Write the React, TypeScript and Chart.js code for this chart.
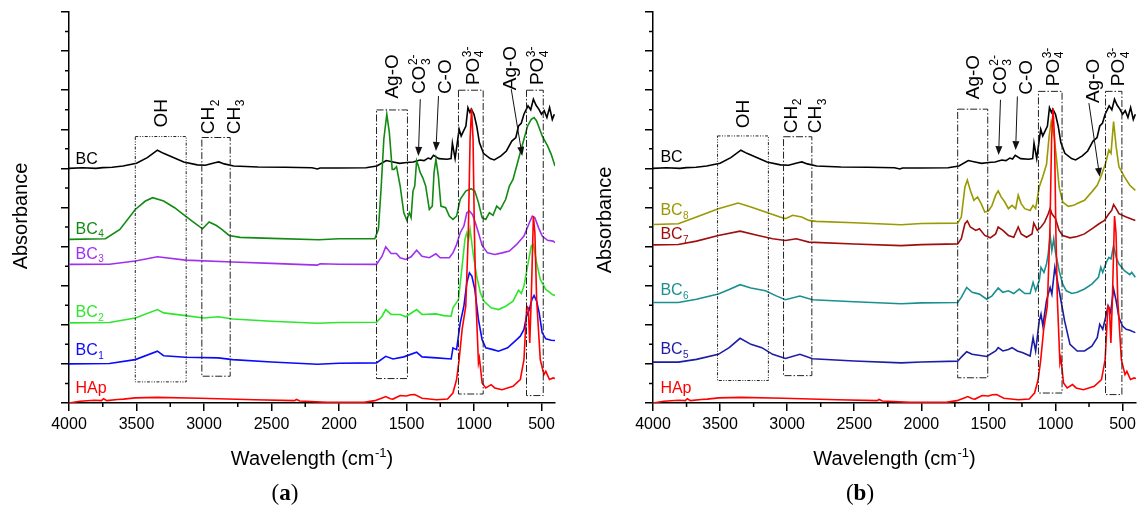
import React, { useEffect, useRef } from "react";
import { Chart, registerables } from "chart.js";
Chart.register(...registerables);

type Pt = [number, number];

// ---------- axis ticks ----------
const xTickLabels = [4000, 3500, 3000, 2500, 2000, 1500, 1000, 500];
const xMinorTicks = [3750, 3250, 2750, 2250, 1750, 1250, 750];
const yMinorTicks = [1, 3, 5, 7, 9, 11, 13, 15, 17, 19];

// ---------- spectra: [wavenumber, absorbance offset units] ----------
const HAp: Pt[] = [
  [4000, 0.0], [3919, 0.09], [3811, 0.14], [3760, 0.12], [3744, 0.22], [3720, 0.12], [3640, 0.18], [3596, 0.2],
  [3509, 0.26], [3345, 0.29], [3029, 0.24], [2625, 0.17], [2330, 0.12], [2315, 0.18], [2290, 0.1], [2086, 0.03],
  [1816, 0.03], [1735, 0.12], [1680, 0.26], [1654, 0.33], [1620, 0.22], [1600, 0.2], [1547, 0.38], [1500, 0.36],
  [1470, 0.42], [1439, 0.43], [1385, 0.24], [1277, 0.17], [1196, 0.2], [1156, 0.51], [1129, 1.2], [1110, 2.22],
  [1088, 3.76], [1061, 4.95], [1042, 8.71], [1029, 13.49], [1018, 15.06], [1007, 13.49], [997, 8.71], [986, 5.29],
  [967, 2.05], [960, 2.3], [953, 1.88], [940, 1.02], [913, 0.77], [873, 0.94], [846, 0.77], [792, 0.68],
  [711, 0.85], [657, 1.2], [630, 2.22], [609, 4.95], [598, 4.87], [587, 3.07], [576, 5.29], [560, 9.56],
  [549, 8.71], [536, 5.29], [509, 2.22], [482, 1.45], [468, 1.62], [441, 1.2], [414, 1.28], [400, 1.25],
];

const BC: Pt[] = [
  [4000, 12.0], [3900, 12.03], [3800, 12.0], [3750, 12.04], [3680, 12.06], [3600, 12.12], [3500, 12.26],
  [3420, 12.55], [3345, 12.93], [3300, 12.77], [3240, 12.6], [3150, 12.33], [3050, 12.18], [2990, 12.16],
  [2920, 12.29], [2890, 12.33], [2850, 12.23], [2780, 12.12], [2600, 12.07], [2400, 12.06], [2200, 12.03],
  [2160, 11.97], [2140, 12.02], [2000, 12.02], [1800, 12.03], [1720, 12.12], [1650, 12.4], [1600, 12.33],
  [1550, 12.26], [1500, 12.3], [1450, 12.33], [1400, 12.43], [1370, 12.4], [1340, 12.53], [1320, 12.48],
  [1300, 12.67], [1260, 12.5], [1200, 12.47], [1170, 12.5], [1160, 13.29], [1140, 12.5], [1110, 14.0],
  [1095, 13.66], [1060, 14.17], [1045, 15.11], [1030, 14.86], [1020, 15.03], [1000, 14.77], [980, 14.17],
  [960, 13.32], [930, 12.77], [880, 12.5], [850, 12.43], [800, 12.64], [760, 12.89], [720, 13.4], [690, 13.58],
  [670, 14.17], [650, 14.31], [630, 14.77], [600, 15.2], [580, 15.0], [560, 15.54], [540, 15.23], [520, 15.03],
  [500, 14.77], [480, 14.95], [460, 14.6], [440, 15.11], [420, 14.5], [405, 14.77],
];

const BC1: Pt[] = [
  [4000, 2.0], [3700, 2.02], [3509, 2.22], [3345, 2.65], [3299, 2.42], [3137, 2.34], [2895, 2.31], [2787, 2.22],
  [2500, 2.1], [2160, 1.98], [2000, 2.03], [1722, 2.05], [1654, 2.39], [1600, 2.25], [1520, 2.36], [1425, 2.6],
  [1385, 2.36], [1277, 2.31], [1169, 2.25], [1156, 2.82], [1129, 2.73], [1102, 4.1], [1075, 4.95], [1053, 6.15],
  [1034, 6.66], [1016, 6.49], [994, 5.81], [967, 4.27], [940, 3.24], [913, 2.82], [859, 2.73], [819, 2.65],
  [751, 2.82], [684, 3.24], [657, 3.42], [630, 3.76], [611, 4.44], [590, 4.78], [571, 5.29], [555, 5.5],
  [536, 5.21], [517, 4.61], [495, 3.59], [468, 3.28], [428, 3.21], [400, 3.2],
];

const BC2: Pt[] = [
  [4000, 4.1], [3700, 4.12], [3509, 4.35], [3345, 4.78], [3299, 4.61], [3137, 4.47], [3002, 4.35], [2895, 4.41],
  [2787, 4.3], [2500, 4.18], [2160, 4.08], [2000, 4.12], [1722, 4.13], [1681, 4.44], [1654, 4.78], [1614, 4.53],
  [1547, 4.53], [1506, 4.41], [1425, 4.78], [1385, 4.53], [1282, 4.56], [1223, 4.47], [1169, 4.44], [1156, 4.87],
  [1115, 5.29], [1088, 7.0], [1067, 8.37], [1053, 8.71], [1040, 8.37], [1029, 8.88], [1007, 7.68], [980, 6.49],
  [953, 5.64], [927, 5.21], [873, 4.87], [819, 4.78], [765, 4.95], [711, 5.21], [670, 5.77], [649, 5.6],
  [630, 5.98], [603, 7.0], [576, 8.03], [560, 8.11], [536, 7.17], [509, 6.32], [468, 5.81], [441, 5.67],
  [420, 5.55], [400, 5.5],
];

const BC3: Pt[] = [
  [4000, 7.09], [3700, 7.1], [3509, 7.26], [3345, 7.48], [3137, 7.31], [2787, 7.21], [2500, 7.14], [2160, 7.05],
  [2140, 7.12], [2000, 7.1], [1722, 7.09], [1681, 7.51], [1654, 7.99], [1614, 7.65], [1574, 7.65], [1547, 7.43],
  [1506, 7.34], [1466, 7.48], [1425, 7.82], [1385, 7.51], [1331, 7.43], [1282, 7.63], [1250, 7.43], [1183, 7.43],
  [1156, 7.68], [1129, 8.11], [1102, 8.71], [1075, 9.05], [1053, 9.73], [1034, 9.82], [1012, 9.65], [994, 9.31],
  [967, 8.71], [940, 8.06], [900, 7.68], [846, 7.6], [792, 7.68], [738, 7.77], [684, 8.11], [630, 8.54],
  [590, 9.22], [568, 9.56], [549, 9.48], [522, 8.97], [495, 8.54], [455, 8.32], [414, 8.28], [400, 8.2],
];

const BC4: Pt[] = [
  [4000, 8.37], [3730, 8.4], [3623, 8.88], [3509, 9.9], [3434, 10.33], [3380, 10.5], [3299, 10.33], [3218, 9.99],
  [3137, 9.56], [3056, 9.14], [3011, 8.91], [2962, 9.26], [2908, 9.08], [2868, 8.88], [2814, 8.57], [2733, 8.47],
  [2500, 8.42], [2150, 8.35], [2000, 8.4], [1735, 8.4], [1708, 8.88], [1687, 11.1], [1668, 13.49], [1646, 14.77],
  [1627, 13.83], [1606, 11.95], [1592, 11.95], [1574, 12.09], [1547, 11.1], [1520, 9.73], [1498, 9.36],
  [1479, 9.73], [1466, 9.48], [1452, 10.84], [1439, 11.1], [1425, 12.38], [1412, 12.12], [1398, 11.78],
  [1380, 11.53], [1358, 11.1], [1331, 9.9], [1309, 10.07], [1296, 11.78], [1282, 12.47], [1264, 11.61],
  [1245, 10.07], [1210, 9.99], [1183, 9.56], [1156, 9.39], [1129, 9.56], [1102, 10.42], [1061, 10.84],
  [1021, 10.96], [994, 10.84], [967, 10.25], [940, 9.48], [913, 9.39], [886, 9.73], [859, 9.6], [832, 10.07],
  [805, 9.9], [765, 10.42], [738, 11.1], [711, 11.44], [684, 12.12], [657, 12.81], [630, 13.49], [603, 14.17],
  [576, 14.51], [555, 14.6], [536, 14.43], [495, 13.66], [455, 13.15], [428, 12.72], [400, 12.12],
];

const BC5: Pt[] = [
  [4000, 2.09], [3811, 2.09], [3676, 2.23], [3513, 2.49], [3432, 2.83], [3351, 3.31], [3270, 3.0], [3189, 2.83],
  [3108, 2.49], [3013, 2.28], [2905, 2.49], [2811, 2.26], [2500, 2.15], [2150, 2.05], [2000, 2.1], [1729, 2.14],
  [1702, 2.35], [1662, 2.62], [1621, 2.49], [1513, 2.38], [1446, 2.66], [1427, 2.83], [1392, 2.66], [1351, 2.74],
  [1324, 2.83], [1284, 2.66], [1243, 2.57], [1189, 2.4], [1167, 3.34], [1148, 2.66], [1121, 4.2], [1108, 4.54],
  [1094, 3.94], [1067, 5.23], [1054, 5.57], [1040, 5.91], [1027, 5.57], [1005, 6.94], [986, 6.26], [959, 5.23],
  [932, 4.2], [892, 3.0], [838, 2.66], [784, 2.66], [729, 2.91], [689, 3.34], [670, 4.03], [648, 3.77],
  [627, 4.37], [608, 4.97], [589, 4.63], [567, 5.83], [548, 5.23], [527, 4.37], [500, 3.94], [473, 3.77],
  [446, 3.72], [405, 3.6],
];

const BC6: Pt[] = [
  [4000, 5.14], [3811, 5.14], [3676, 5.31], [3513, 5.57], [3432, 5.81], [3351, 6.05], [3270, 5.88], [3162, 5.74],
  [3081, 5.48], [3013, 5.28], [2905, 5.47], [2811, 5.28], [2500, 5.18], [2150, 5.08], [2000, 5.12], [1729, 5.14],
  [1702, 5.4], [1662, 5.91], [1621, 5.66], [1567, 5.57], [1513, 5.31], [1473, 5.48], [1427, 5.88], [1392, 5.66],
  [1351, 5.74], [1311, 5.6], [1270, 5.83], [1229, 5.6], [1189, 5.6], [1167, 6.17], [1148, 5.74], [1121, 6.26],
  [1108, 6.94], [1086, 6.68], [1067, 7.11], [1054, 7.63], [1040, 8.6], [1027, 7.8], [1013, 8.4], [1000, 7.71],
  [973, 6.77], [946, 6.08], [919, 5.74], [878, 5.6], [838, 5.66], [784, 5.83], [729, 6.08], [680, 6.43],
  [662, 6.94], [648, 6.68], [621, 7.2], [602, 7.45], [586, 7.37], [567, 8.05], [548, 7.45], [527, 7.11],
  [486, 6.77], [446, 6.56], [432, 6.68], [405, 6.43],
];

const BC7: Pt[] = [
  [4000, 8.09], [3811, 8.11], [3676, 8.28], [3513, 8.57], [3351, 8.79], [3216, 8.57], [3108, 8.4], [3013, 8.31],
  [2932, 8.4], [2838, 8.23], [2500, 8.13], [2150, 8.05], [2000, 8.1], [1729, 8.14], [1702, 8.4], [1675, 9.17],
  [1657, 9.31], [1635, 9.0], [1594, 8.83], [1567, 8.91], [1527, 8.57], [1486, 8.45], [1446, 8.65], [1427, 9.0],
  [1392, 8.83], [1351, 8.57], [1311, 8.48], [1278, 9.0], [1256, 8.65], [1216, 8.48], [1175, 8.65], [1162, 9.2],
  [1135, 8.83], [1108, 9.0], [1081, 9.25], [1054, 9.68], [1040, 9.95], [1027, 9.68], [1000, 9.43], [973, 8.83],
  [946, 8.57], [892, 8.45], [838, 8.52], [784, 8.65], [729, 8.91], [675, 9.17], [635, 9.34], [602, 9.68],
  [581, 9.85], [567, 10.15], [548, 9.94], [527, 9.68], [473, 9.51], [405, 9.34],
];

const BC8: Pt[] = [
  [4000, 9.13], [3811, 9.17], [3676, 9.51], [3513, 9.94], [3365, 10.23], [3270, 10.03], [3162, 9.77],
  [3054, 9.51], [3013, 9.43], [2959, 9.6], [2892, 9.51], [2838, 9.34], [2784, 9.29], [2500, 9.22], [2150, 9.12],
  [2000, 9.18], [1729, 9.2], [1702, 9.51], [1675, 11.05], [1657, 11.4], [1635, 10.88], [1608, 10.37],
  [1581, 10.54], [1554, 10.2], [1527, 9.77], [1500, 9.82], [1473, 10.11], [1446, 10.63], [1427, 10.85],
  [1405, 10.54], [1378, 10.28], [1351, 9.94], [1324, 10.11], [1297, 9.94], [1278, 10.63], [1256, 10.2],
  [1229, 9.94], [1189, 9.85], [1167, 10.11], [1148, 9.94], [1121, 11.05], [1094, 11.6], [1067, 12.2],
  [1048, 13.6], [1032, 14.4], [1013, 13.8], [994, 12.6], [973, 11.05], [946, 10.28], [905, 10.06], [865, 10.11],
  [838, 10.2], [784, 10.37], [729, 10.8], [689, 11.14], [662, 11.57], [627, 12.25], [602, 12.94], [586, 12.77],
  [567, 14.4], [548, 13.11], [527, 12.08], [486, 11.57], [446, 11.14], [405, 10.88],
];

// ---------- styling / layout config ----------
const FONT = '"Liberation Sans", Arial, Helvetica, sans-serif';
const SERIF = '"Liberation Serif", "Times New Roman", serif';

type Seg = { t: string; k?: "sup" | "sub"; b?: boolean };

const S_OH: Seg[] = [{ t: "OH" }];
const S_CH2: Seg[] = [{ t: "CH" }, { t: "2", k: "sub" }];
const S_CH3: Seg[] = [{ t: "CH" }, { t: "3", k: "sub" }];
const S_AGO: Seg[] = [{ t: "Ag-O" }];
const S_CO3: Seg[] = [{ t: "CO" }, { t: "2-", k: "sup" }, { t: "3", k: "sub" }];
const S_CO: Seg[] = [{ t: "C-O" }];
const S_PO4: Seg[] = [{ t: "PO" }, { t: "3-", k: "sup" }, { t: "4", k: "sub" }];

function sub(name: string, n: string): Seg[] {
  return [{ t: name }, { t: n, k: "sub" }];
}

const panelA = {
  yWidth: 69,
  padRight: 15,
  letter: "a",
  letterX: 285,
  absX: 20,
  absY: 216,
  labelX: 3952,
  series: [
    { data: HAp, color: "#ff0000" },
    { data: BC1, color: "#0a0aff" },
    { data: BC2, color: "#2ee62e" },
    { data: BC3, color: "#a030f0" },
    { data: BC4, color: "#138a13" },
    { data: BC, color: "#000000" },
  ],
  labels: [
    { segs: [{ t: "BC" }] as Seg[], y: 12.25, color: "#000000" },
    { segs: sub("BC", "4"), y: 8.67, color: "#138a13" },
    { segs: sub("BC", "3"), y: 7.39, color: "#a030f0" },
    { segs: sub("BC", "2"), y: 4.4, color: "#2ee62e" },
    { segs: sub("BC", "1"), y: 2.47, color: "#0a0aff" },
    { segs: [{ t: "HAp" }] as Seg[], y: 0.5, color: "#ff0000" },
  ],
  boxes: [
    { x1: 3509, x2: 3132, y1: 13.63, y2: 1.08, dots: true },
    { x1: 3016, x2: 2806, y1: 13.58, y2: 1.37, dots: false },
    { x1: 1722, x2: 1493, y1: 14.99, y2: 1.25, dots: false },
    { x1: 1115, x2: 932, y1: 16.0, y2: 0.46, dots: false },
    { x1: 611, x2: 487, y1: 16.0, y2: 0.38, dots: false },
  ],
  notes: [
    { segs: S_OH, x: 3326, y: 14.09 },
    { segs: S_CH2, x: 2976, y: 13.75 },
    { segs: S_CH3, x: 2787, y: 13.75 },
    { segs: S_AGO, x: 1614, y: 15.57 },
    { segs: S_CO3, x: 1412, y: 15.8 },
    { segs: S_CO, x: 1223, y: 15.8 },
    { segs: S_PO4, x: 1016, y: 16.26 },
    { segs: S_AGO, x: 738, y: 16.0 },
    { segs: S_PO4, x: 536, y: 16.26 },
  ],
  arrows: [
    [1398, 15.54, 1412, 12.64],
    [1263, 15.7, 1282, 12.89],
    [724, 16.05, 643, 12.64],
  ],
};

const panelB = {
  yWidth: 83,
  padRight: 3,
  letter: "b",
  letterX: 290,
  absX: 34,
  absY: 220,
  labelX: 3945,
  series: [
    { data: HAp, color: "#ff0000" },
    { data: BC5, color: "#1c1ca8" },
    { data: BC6, color: "#1a9090" },
    { data: BC7, color: "#a00d0d" },
    { data: BC8, color: "#999900" },
    { data: BC, color: "#000000" },
  ],
  labels: [
    { segs: [{ t: "BC" }] as Seg[], y: 12.32, color: "#000000" },
    { segs: sub("BC", "8"), y: 9.61, color: "#999900" },
    { segs: sub("BC", "7"), y: 8.37, color: "#a00d0d" },
    { segs: sub("BC", "6"), y: 5.5, color: "#1a9090" },
    { segs: sub("BC", "5"), y: 2.5, color: "#1c1ca8" },
    { segs: [{ t: "HAp" }] as Seg[], y: 0.53, color: "#ff0000" },
  ],
  boxes: [
    { x1: 3519, x2: 3140, y1: 13.66, y2: 1.15, dots: true },
    { x1: 3027, x2: 2816, y1: 13.62, y2: 1.4, dots: false },
    { x1: 1729, x2: 1505, y1: 15.03, y2: 1.29, dots: false },
    { x1: 1127, x2: 951, y1: 15.94, y2: 0.51, dots: false },
    { x1: 627, x2: 505, y1: 15.94, y2: 0.43, dots: false },
  ],
  notes: [
    { segs: S_OH, x: 3338, y: 14.05 },
    { segs: S_CH2, x: 2981, y: 13.8 },
    { segs: S_CH3, x: 2797, y: 13.8 },
    { segs: S_AGO, x: 1621, y: 15.54 },
    { segs: S_CO3, x: 1419, y: 15.77 },
    { segs: S_CO, x: 1229, y: 15.77 },
    { segs: S_PO4, x: 1027, y: 16.2 },
    { segs: S_AGO, x: 729, y: 15.34 },
    { segs: S_PO4, x: 540, y: 16.2 },
  ],
  arrows: [
    [1410, 15.51, 1424, 12.68],
    [1284, 15.68, 1297, 12.94],
    [751, 15.34, 670, 11.57],
  ],
};

// ---------- rich text helpers ----------
function richLayout(ctx: any, segs: Seg[], size: number, family: string, x: number, y: number, draw: boolean) {
  let cx = x;
  let i = 0;
  while (i < segs.length) {
    const s = segs[i];
    if (!s.k) {
      ctx.font = `${s.b ? "bold " : ""}${size}px ${family}`;
      if (draw) ctx.fillText(s.t, cx, y);
      cx += ctx.measureText(s.t).width;
      i++;
    } else {
      let w = 0;
      const ss = Math.round(size * 0.64);
      while (i < segs.length && segs[i].k) {
        const q = segs[i];
        ctx.font = `${ss}px ${family}`;
        const dy = q.k === "sup" ? -size * 0.42 : size * 0.24;
        if (draw) ctx.fillText(q.t, cx + 0.5, y + dy);
        w = Math.max(w, ctx.measureText(q.t).width);
        i++;
      }
      cx += w + 0.5;
    }
  }
  return cx - x;
}

function makeChart(canvas: HTMLCanvasElement, spec: any) {
  const decor = {
    id: "decor",
    afterDraw(chart: any) {
      const ctx = chart.ctx as CanvasRenderingContext2D;
      const xs = chart.scales.x;
      const ys = chart.scales.y;
      const ca = chart.chartArea;
      ctx.save();
      ctx.textBaseline = "alphabetic";
      ctx.textAlign = "left";

      // minor ticks
      ctx.strokeStyle = "#000";
      ctx.lineWidth = 1.5;
      ctx.beginPath();
      xMinorTicks.forEach((v) => {
        const px = xs.getPixelForValue(v);
        ctx.moveTo(px, ca.bottom);
        ctx.lineTo(px, ca.bottom + 4);
      });
      yMinorTicks.forEach((v) => {
        const py = ys.getPixelForValue(v);
        ctx.moveTo(ca.left, py);
        ctx.lineTo(ca.left - 4, py);
      });
      ctx.stroke();

      // boxes
      ctx.strokeStyle = "#222";
      ctx.lineWidth = 1;
      spec.boxes.forEach((b: any) => {
        const x1 = xs.getPixelForValue(b.x1);
        const x2 = xs.getPixelForValue(b.x2);
        const y1 = ys.getPixelForValue(b.y1);
        const y2 = ys.getPixelForValue(b.y2);
        ctx.setLineDash(b.dots ? [3, 1.5, 1, 1.5, 1, 1.5] : [7, 2, 1.5, 2]);
        ctx.strokeRect(Math.min(x1, x2), Math.min(y1, y2), Math.abs(x2 - x1), Math.abs(y2 - y1));
      });
      ctx.setLineDash([]);

      // arrows
      ctx.strokeStyle = "#111";
      ctx.fillStyle = "#111";
      ctx.lineWidth = 1;
      spec.arrows.forEach((a: number[]) => {
        const x1 = xs.getPixelForValue(a[0]);
        const y1 = ys.getPixelForValue(a[1]);
        const x2 = xs.getPixelForValue(a[2]);
        const y2 = ys.getPixelForValue(a[3]);
        const ang = Math.atan2(y2 - y1, x2 - x1);
        const L = 9;
        const W = 3.5;
        const bx = x2 - L * Math.cos(ang);
        const by = y2 - L * Math.sin(ang);
        ctx.beginPath();
        ctx.moveTo(x1, y1);
        ctx.lineTo(bx, by);
        ctx.stroke();
        ctx.beginPath();
        ctx.moveTo(x2, y2);
        ctx.lineTo(bx + W * Math.sin(ang), by - W * Math.cos(ang));
        ctx.lineTo(bx - W * Math.sin(ang), by + W * Math.cos(ang));
        ctx.closePath();
        ctx.fill();
      });

      // rotated annotations
      const NS = 19;
      const cap = NS * 0.716;
      ctx.fillStyle = "#000";
      spec.notes.forEach((n: any) => {
        const px = xs.getPixelForValue(n.x);
        const py = ys.getPixelForValue(n.y);
        ctx.save();
        ctx.translate(px + cap / 2, py);
        ctx.rotate(-Math.PI / 2);
        richLayout(ctx, n.segs, NS, FONT, 0, 0, true);
        ctx.restore();
      });

      // curve labels
      const lx = xs.getPixelForValue(spec.labelX);
      spec.labels.forEach((l: any) => {
        ctx.fillStyle = l.color;
        richLayout(ctx, l.segs, 16, FONT, lx, ys.getPixelForValue(l.y), true);
      });

      // x axis title
      ctx.fillStyle = "#000";
      const tSegs: Seg[] = [{ t: "Wavelength (cm" }, { t: "-1", k: "sup" }, { t: ")" }];
      const tw = richLayout(ctx, tSegs, 20, FONT, 0, 0, false);
      const cx = (ca.left + ca.right) / 2;
      richLayout(ctx, tSegs, 20, FONT, cx - tw / 2, 465, true);

      // y axis title
      const aSegs: Seg[] = [{ t: "Absorbance" }];
      const aw = richLayout(ctx, aSegs, 20, FONT, 0, 0, false);
      ctx.save();
      ctx.translate(spec.absX + 7, spec.absY + aw / 2);
      ctx.rotate(-Math.PI / 2);
      richLayout(ctx, aSegs, 20, FONT, 0, 0, true);
      ctx.restore();

      // panel letter
      const lSegs: Seg[] = [{ t: "(" }, { t: spec.letter, b: true }, { t: ")" }];
      const lw = richLayout(ctx, lSegs, 23, SERIF, 0, 0, false);
      richLayout(ctx, lSegs, 23, SERIF, spec.letterX - lw / 2, 500, true);

      ctx.restore();
    },
  };

  return new Chart(canvas, {
    type: "line",
    data: {
      datasets: spec.series.map((s: any) => ({
        data: s.data.map((p: Pt) => ({ x: p[0], y: p[1] })),
        borderColor: s.color,
        backgroundColor: s.color,
        borderWidth: 1.6,
        pointRadius: 0,
        fill: false,
        tension: 0,
      })),
    },
    options: {
      responsive: false,
      animation: false,
      events: [],
      layout: { padding: { left: 0, right: spec.padRight, top: 12, bottom: 0 } },
      plugins: { legend: { display: false }, tooltip: { enabled: false } },
      scales: {
        x: {
          type: "linear",
          min: 400,
          max: 4000,
          reverse: true,
          afterBuildTicks: (s: any) => {
            s.ticks = xTickLabels.map((v) => ({ value: v }));
          },
          afterFit: (s: any) => {
            s.height = 103;
          },
          ticks: {
            color: "#000",
            font: { family: FONT, size: 16 },
            padding: 4,
            maxRotation: 0,
            autoSkip: false,
            callback: (v: any) => String(v),
          },
          grid: { drawOnChartArea: false, color: "#000", lineWidth: 1.5, tickLength: 8 },
          border: { color: "#000", width: 1.5 },
        },
        y: {
          type: "linear",
          min: 0,
          max: 20,
          ticks: { display: false, stepSize: 2 },
          afterFit: (s: any) => {
            s.width = spec.yWidth;
          },
          grid: { drawOnChartArea: false, color: "#000", lineWidth: 1.5, tickLength: 8 },
          border: { color: "#000", width: 1.5 },
        },
      },
    } as any,
    plugins: [decor],
  } as any);
}

export default function App() {
  const refA = useRef<HTMLCanvasElement>(null);
  const refB = useRef<HTMLCanvasElement>(null);
  useEffect(() => {
    document.body.style.margin = "0";
    const a = makeChart(refA.current as HTMLCanvasElement, panelA);
    const b = makeChart(refB.current as HTMLCanvasElement, panelB);
    return () => {
      a.destroy();
      b.destroy();
    };
  }, []);
  return (
    <div style={{ position: "relative", width: 1140, height: 506, background: "#fff", overflow: "hidden" }}>
      <canvas ref={refA} width={570} height={506} style={{ position: "absolute", left: 0, top: 0, width: 570, height: 506 }} />
      <canvas ref={refB} width={570} height={506} style={{ position: "absolute", left: 570, top: 0, width: 570, height: 506 }} />
    </div>
  );
}
